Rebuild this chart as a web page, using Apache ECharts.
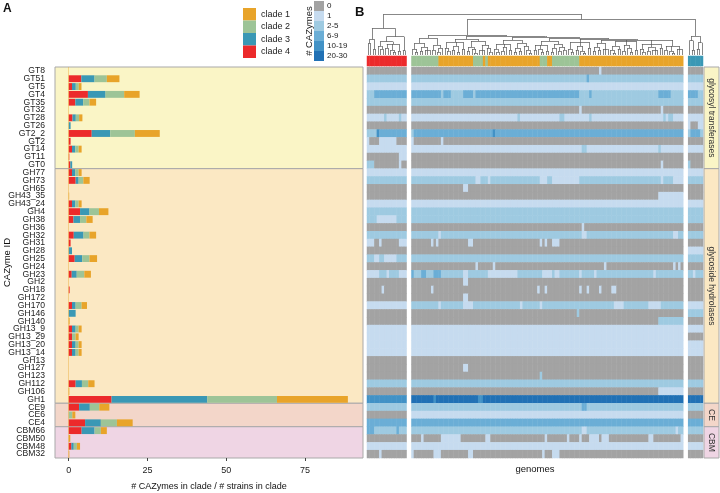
<!DOCTYPE html>
<html>
<head>
<meta charset="utf-8">
<script src="https://cdn.jsdelivr.net/npm/echarts@6/dist/echarts.min.js"></script>
<style>
  html, body { margin: 0; padding: 0; background: #fff; }
  #chart { width: 720px; height: 493px; }
</style>
</head>
<body>
<div id="chart"></div>
<script>
// CAZyme families, top to bottom
const cazymes = ['GT8', 'GT51', 'GT5', 'GT4', 'GT35', 'GT32', 'GT28', 'GT26', 'GT2_2', 'GT2', 'GT14', 'GT11', 'GT0',
  'GH77', 'GH73', 'GH65', 'GH43_35', 'GH43_24', 'GH4', 'GH38', 'GH36', 'GH32', 'GH31', 'GH28', 'GH25', 'GH24', 'GH23',
  'GH2', 'GH18', 'GH172', 'GH170', 'GH146', 'GH140', 'GH13_9', 'GH13_29', 'GH13_20', 'GH13_14', 'GH13', 'GH127',
  'GH123', 'GH112', 'GH106', 'GH1', 'CE9', 'CE6', 'CE4', 'CBM66', 'CBM50', 'CBM48', 'CBM32']

// panel A: # CAZymes in clade / # strains in clade
const clade4 = [0, 4.0, 1.05, 6.1, 2.1, 0, 1.2, 0, 7.3, 0.6, 1.05, 0.2, 0.5,
  1.05, 2.2, 0, 0, 1.05, 3.6, 1.5, 0, 1.6, 0.6, 0, 1.9, 0, 0.95, 0, 0.3, 0, 1.05, 0, 0, 1.05, 1.05, 1.05, 1.05, 0, 0, 0, 2.2, 0, 13.6,
  3.3, 0, 5.2, 4.1, 0, 0.85, 0]
const clade3 = [0, 4.2, 1.2, 5.6, 2.5, 0, 1.05, 0.6, 5.9, 0, 1.05, 0, 0.6,
  1.05, 0.95, 0, 0, 1.05, 3.0, 2.1, 0, 3.1, 0, 1.05, 2.4, 0, 1.6, 0, 0, 0, 1.15, 2.2, 0, 1.15, 0, 1.15, 1.15, 0, 0, 0, 2.0, 0, 30.4,
  3.4, 0, 5.0, 4.1, 0, 0.75, 0]
const clade2 = [0, 3.9, 0.95, 5.9, 2.0, 0, 1.05, 0, 7.8, 0, 1.05, 0, 0,
  1.05, 1.5, 0, 0, 1.05, 3.0, 2.0, 0, 1.9, 0, 0, 2.3, 0, 2.4, 0, 0, 0, 1.9, 0, 0, 0.95, 1.15, 0.95, 0.95, 0, 0, 0, 2.0, 0, 22.1,
  3.0, 1.15, 5.1, 2.0, 0, 1.0, 0]
const clade1 = [0, 4.0, 0.85, 4.9, 2.1, 0, 1.05, 0, 7.9, 0, 0.95, 0, 0,
  0.95, 2.0, 0, 0.15, 0.95, 3.0, 2.0, 0, 2.1, 0, 0, 2.4, 0, 2.1, 0, 0, 0, 1.7, 0, 0.3, 0.95, 0.95, 0.95, 0.95, 0, 0, 0, 2.0, 0.2, 22.5,
  3.2, 0.95, 5.0, 1.9, 0.5, 1.0, 0.2]
const xTicks = [0, 25, 50, 75]

// panel B: count class per genome, run-length coded "class:count" (0 | 1 | 2-5 | 6-9 | 10-19 | 20-30)
const countClasses = ['0', '1', '2-5', '6-9', '10-19', '20-30']
// clade 4 genomes
const heatRed = ['0:16', '2:16', '1:16', '2:3,3:13', '2:16', '0:16', '1:7,2:1,1:5,2:1,1:2', '0:16', '2:4,4:1,3:11',
  '1:1,0:4,1:7,0:4', '1:16', '0:13,1:3', '2:3,0:10,1:1,0:2',
  '1:16', '2:16', '0:16', '0:16', '1:16', '2:16', '2:4,1:8,2:4', '0:16', '2:16', '1:3,0:2,1:1,0:7,1:3', '0:16',
  '2:3,1:2,2:2,1:5,2:4', '0:16', '1:5,2:3,1:1,2:4,1:3', '0:16', '0:6,1:1,0:9', '0:16', '1:16', '0:16', '0:16', '1:16',
  '1:16', '1:16', '1:16', '0:16', '0:16', '0:16', '2:16', '0:16', '4:16',
  '2:16', '0:16', '3:16', '3:3,2:9,3:1,2:3', '0:16', '1:16', '0:5,1:1,0:10']
// clade 1 and clade 2 genomes
const heatMid = ['0:76,1:1,0:33', '2:71,3:1,2:38', '1:110',
  '3:12,2:1,3:3,2:5,3:4,2:1,3:42,2:4,3:1,2:27,3:5,2:5', '2:110', '0:68,1:1,0:32,1:1,0:8',
  '1:43,2:1,1:16,2:2,1:10,2:1,1:29,2:1,1:1,2:2,1:4', '0:110', '2:1,3:32,4:1,3:76', '1:1,0:11,1:1,0:97',
  '1:69,2:2,1:29,2:1,1:9', '0:110', '0:101,1:1,0:8',
  '1:110', '2:26,1:2,2:3,1:1,2:20,1:3,2:2,1:11,2:33,1:1,2:4,1:4', '0:21,1:2,0:87', '0:100,1:10', '1:110', '2:110',
  '2:110', '0:69,1:1,0:40', '2:11,1:1,2:57,1:2,2:35,1:2,2:2',
  '0:8,1:1,0:1,1:1,0:12,1:2,0:27,1:1,0:1,1:1,0:2,1:3,0:50', '0:110', '2:110',
  '0:26,1:1,0:6,1:1,0:44,1:1,0:27,1:1,0:1,1:1,0:1',
  '3:1,2:3,3:2,2:3,3:3,2:9,1:2,2:8,1:12,2:10,1:4,2:1,1:2,2:8,1:1,2:5,1:1,2:23,1:1,2:11', '0:21,1:2,0:87',
  '0:8,1:1,0:42,1:1,0:2,1:1,0:13,1:1,0:2,1:1,0:4,1:1,0:4,1:2,0:27', '0:21,1:2,0:87',
  '2:11,1:1,2:9,1:4,2:19,1:1,2:7,1:1,2:29,1:4,2:10,1:5,2:9', '0:67,2:1,0:42', '0:100,2:10', '1:110', '1:110',
  '1:110', '1:110', '0:110', '0:21,1:2,0:87', '0:52,2:1,0:57', '2:110', '0:100,1:10', '5:9,4:1,5:17,4:2,5:81',
  '2:69,3:2,2:39', '1:110', '3:110', '2:69,1:2,2:36,1:1,2:2',
  '0:4,1:1,0:7,1:8,0:10,1:2,0:22,1:1,0:8,1:1,0:4,1:1,0:3,1:4,0:1,1:3,0:16,1:2,0:11,1:1', '1:110',
  '1:1,0:8,1:3,0:11,1:2,0:28,1:1,0:3,1:3,0:50']
// clade 3 genomes
const heatTeal = ['0:6', '2:6', '1:6', '3:4,2:2', '2:6', '0:6', '1:6', '1:1,0:3,1:2', '2:1,3:4,2:1', '0:6', '1:6', '0:6',
  '2:1,0:5', '1:6', '2:6', '0:6', '0:6', '1:6', '2:6', '2:6', '0:6', '2:6', '0:6', '1:6', '2:6', '0:6', '2:2,1:1,2:3',
  '0:6', '0:6', '0:6', '1:6', '2:6', '0:6', '1:6', '0:6', '1:6', '1:6', '0:6', '0:6', '0:6', '2:6', '0:6', '5:6',
  '2:6', '0:6', '3:6', '2:6', '0:6', '1:6', '0:6']

// clade of each genome column (1..4), same block order
const cladeRed = '4:16'
const cladeMid = '2:11,1:14,2:4,1:1,2:1,1:21,2:3,1:2,2:11,1:42'
const cladeTeal = '3:6'

// genome dendrogram: [height, ...children], 0 = leaf
const treeRed = [26.7, [15.7, [11.7, 0, 0], [5.7, 0, 0]],
  [18.3, [13.3, [9, 0, [6, 0, 0]], [11, [7, 0, 0], [5, 0, [3, 0, 0]], [4, 0, 0]]], [4.3, 0, 0]]]
const treeMid = [20,
  [17, [12, [6, 0, [3, 0, 0]], [8, [4, 0, 0], [5, 0, 0, 0]]], [10, [5, 0, 0], [7, [3, 0, 0], 0]]],
  [19,
    [16,
      [13, [7, 0, [4, 0, 0]], [9, [5, 0, 0], [3, 0, 0]], [6, 0, 0]],
      [14, [8, [4, 0, 0], [6, 0, [2, 0, 0]]], [10, [5, 0, 0, 0], [7, 0, [3, 0, 0]]]]],
    [18,
      [15,
        [11, [6, 0, [3, 0, 0]], [8, [4, 0, 0], 0], [5, 0, 0]],
        [12, [7, [3, 0, 0], [4, 0, 0]], [9, 0, [5, 0, [2, 0, 0]]]]],
      [17,
        [14,
          [10, [5, 0, 0], [6, 0, [3, 0, 0]], [4, 0, 0]],
          [11, [7, [3, 0, 0], 0], [8, [4, 0, 0], [5, 0, 0]]]],
        [16,
          [13, [6, 0, [3, 0, 0]], [9, [5, 0, 0], [4, 0, [2, 0, 0]]], [7, 0, 0]],
          [15,
            [12, [8, [4, 0, 0], [5, 0, 0]], [6, 0, 0, 0]],
            [14, [9, [5, 0, [2, 0, 0]], [6, 0, 0]], [10, [4, 0, 0], [7, 0, [3, 0, 0]]], [5, 0, 0]],
            [11, [6, 0, [3, 0, 0]], [8, [4, 0, 0], [5, 0, 0, 0]], [7, 0, 0]],
            [9, [5, 0, 0], [4, 0, [2, 0, 0]], [6, 0, 0, 0]]]]]]]]
const treeTeal = [19, [14.3, 0, [5, 0, 0]], [12.3, [6, 0, 0], 0]]
const tree = [41, treeRed, [35.7, treeMid, treeTeal]]

const cladeColors = { 1: '#e8a42a', 2: '#9dc497', 3: '#3a98b5', 4: '#ec2a2b' }
const classColors = ['#a3a3a3', '#c6dbef', '#9ecae1', '#6baed6', '#4292c6', '#2171b5']
const famInfo = {
  GT: { label: 'glycosyl transferases', color: '#faf5c6' },
  GH: { label: 'glycoside hydrolases', color: '#fbe8c3' },
  CE: { label: 'CE', color: '#f3d6c9' },
  CBM: { label: 'CBM', color: '#efd5e4' }
}
const FONT = 'Liberation Sans'

const expand = (rle) => {
  const out = []
  rle.split(',').forEach(p => {
    const [v, n] = p.split(':').map(Number)
    for (let i = 0; i < n; i++) out.push(v)
  })
  return out
}

// family groups from the name prefix
const families = []
cazymes.forEach((c, i) => {
  const key = c.match(/^[A-Z]+/)[0]
  const last = families[families.length - 1]
  if (last && last.key === key) last.end = i
  else families.push({ key, start: i, end: i })
})
const famData = families.map((f, i) => [f.start, f.end, i])

// genome columns: three blocks separated by a gap
const GAP = 2
const blocks = [heatRed, heatMid, heatTeal]
const cladeBlocks = [cladeRed, cladeMid, cladeTeal]
const offsets = []
let nCols = 0
blocks.forEach((b, i) => {
  if (i > 0) nCols += GAP
  offsets.push(nCols)
  nCols += expand(b[0]).length
})
const colCats = Array.from({ length: nCols }, (_, i) => i)

const heatData = []
blocks.forEach((b, bi) => {
  b.forEach((rle, r) => {
    expand(rle).forEach((v, c) => heatData.push([offsets[bi] + c, r, v]))
  })
})
const cladeData = []
cladeBlocks.forEach((rle, bi) => {
  expand(rle).forEach((v, c) => cladeData.push([offsets[bi] + c, 0, v]))
})

// dendrogram segments
const leafCols = []
blocks.forEach((b, bi) => {
  const n = expand(b[0]).length
  for (let c = 0; c < n; c++) leafCols.push(offsets[bi] + c)
})
const segs = []
let leafIdx = 0
const place = (node) => {
  if (node === 0) return { x: leafCols[leafIdx++], h: 0 }
  const h = node[0]
  const kids = node.slice(1).map(place)
  kids.forEach(k => segs.push([[k.x, k.h], [k.x, h]]))
  const x0 = kids[0].x
  const x1 = kids[kids.length - 1].x
  segs.push([[x0, h], [x1, h]])
  return { x: (x0 + x1) / 2, h }
}
place(tree)

const chart = echarts.init(document.getElementById('chart'))

const barSeries = [['clade 4', clade4, 4], ['clade 3', clade3, 3], ['clade 2', clade2, 2], ['clade 1', clade1, 1]]
  .map(([name, data, k]) => ({
    name,
    type: 'bar',
    stack: 'total',
    xAxisIndex: 0,
    yAxisIndex: 0,
    barCategoryGap: '12%',
    itemStyle: { color: cladeColors[k] },
    data
  }))
barSeries[3].markLine = {
  silent: true,
  symbol: ['none', 'none'],
  label: { show: false },
  lineStyle: { color: '#e8a42a', width: 1, opacity: 0.4, type: 'solid' },
  data: [{ xAxis: 0 }]
}

const gridBase = { outerBoundsMode: 'none', containLabel: false }

const option = {
  animation: false,
  textStyle: { fontFamily: FONT },
  grid: [
    { ...gridBase, left: 55, top: 67, width: 308, height: 391 },
    { ...gridBase, left: 367, top: 67, width: 336, height: 391 },
    { ...gridBase, left: 367, top: 56, width: 336, height: 10 },
    { ...gridBase, left: 367, top: 12, width: 336, height: 43 }
  ],
  legend: {
    data: ['clade 1', 'clade 2', 'clade 3', 'clade 4'],
    orient: 'vertical',
    left: 238,
    top: 3,
    itemWidth: 13,
    itemHeight: 12.5,
    itemGap: 0,
    icon: 'rect',
    selectedMode: false,
    textStyle: { fontSize: 9, color: '#222', fontFamily: FONT }
  },
  visualMap: [
    {
      type: 'piecewise',
      seriesIndex: 5,
      dimension: 2,
      pieces: countClasses.map((label, i) => ({ value: i, label, color: classColors[i] })),
      orient: 'vertical',
      inverse: true,
      left: 314,
      top: 1,
      padding: 0,
      itemWidth: 10,
      itemHeight: 10,
      itemGap: 0,
      itemSymbol: 'rect',
      textGap: 3,
      align: 'left',
      selectedMode: false,
      textStyle: { fontSize: 8, color: '#222', fontFamily: FONT }
    },
    {
      type: 'piecewise',
      show: false,
      seriesIndex: 6,
      dimension: 2,
      pieces: [1, 2, 3, 4].map(k => ({ value: k, color: cladeColors[k] }))
    }
  ],
  xAxis: [
    {
      type: 'value',
      gridIndex: 0,
      min: -4.35,
      max: 93.4,
      splitLine: { show: false },
      axisLine: { show: false },
      axisTick: { show: true, customValues: xTicks, length: 3, lineStyle: { color: '#444' } },
      axisLabel: { customValues: xTicks, fontSize: 9, color: '#222', margin: 8 },
      name: '# CAZymes in clade / # strains in clade',
      nameLocation: 'middle',
      nameGap: 24,
      nameMoveOverlap: false,
      nameTextStyle: { fontSize: 9, color: '#111', fontFamily: FONT }
    },
    {
      type: 'category',
      gridIndex: 1,
      data: colCats,
      axisLine: { show: false },
      axisTick: { show: false },
      axisLabel: { show: false },
      name: 'genomes',
      nameLocation: 'middle',
      nameGap: 6,
      nameMoveOverlap: false,
      nameTextStyle: { fontSize: 9.5, color: '#111', fontFamily: FONT }
    },
    { type: 'category', gridIndex: 2, data: colCats, show: false },
    { type: 'value', gridIndex: 3, min: -0.5, max: nCols - 0.5, show: false }
  ],
  yAxis: [
    {
      type: 'category',
      gridIndex: 0,
      data: cazymes,
      inverse: true,
      axisLine: { show: false },
      axisTick: { alignWithLabel: true, length: 4, lineStyle: { color: '#444' } },
      axisLabel: { interval: 0, fontSize: 8.6, color: '#222', margin: 10 },
      name: 'CAZyme ID',
      nameLocation: 'middle',
      nameGap: 43,
      nameMoveOverlap: false,
      nameTextStyle: { fontSize: 9.5, color: '#111', fontFamily: FONT }
    },
    { type: 'category', gridIndex: 1, data: cazymes, inverse: true, show: false },
    { type: 'category', gridIndex: 2, data: ['clade'], show: false },
    { type: 'value', gridIndex: 3, min: 0, max: 43, show: false }
  ],
  graphic: [
    { type: 'text', left: 3, top: 3, style: { text: 'A', fontSize: 12, fontWeight: 'bold', fill: '#111', fontFamily: FONT } },
    { type: 'text', left: 355, top: 6, style: { text: 'B', fontSize: 13, fontWeight: 'bold', fill: '#111', fontFamily: FONT } },
    {
      type: 'text',
      x: 309,
      y: 31,
      rotation: Math.PI / 2,
      style: {
        text: '# CAZymes', fontSize: 9.5, fill: '#222', fontFamily: FONT,
        align: 'center', verticalAlign: 'middle', textAlign: 'center', textVerticalAlign: 'middle'
      }
    }
  ],
  series: [
    {
      type: 'custom',
      xAxisIndex: 0,
      yAxisIndex: 0,
      z: 0,
      silent: true,
      data: famData,
      renderItem: (params, api) => {
        const cs = params.coordSys
        const band = api.size([0, 1])[1]
        const y0 = api.coord([0, api.value(0)])[1] - band / 2
        const y1 = api.coord([0, api.value(1)])[1] + band / 2
        return {
          type: 'rect',
          shape: { x: cs.x, y: y0, width: cs.width, height: y1 - y0 },
          style: { fill: famInfo[families[api.value(2)].key].color, stroke: '#a9a9a9', lineWidth: 1 }
        }
      }
    },
    ...barSeries,
    {
      type: 'heatmap',
      xAxisIndex: 1,
      yAxisIndex: 1,
      data: heatData,
      progressive: 0,
      silent: true,
      itemStyle: { borderWidth: 0 }
    },
    {
      type: 'heatmap',
      xAxisIndex: 2,
      yAxisIndex: 2,
      data: cladeData,
      progressive: 0,
      silent: true,
      itemStyle: { borderWidth: 0 }
    },
    {
      type: 'lines',
      coordinateSystem: 'cartesian2d',
      xAxisIndex: 3,
      yAxisIndex: 3,
      silent: true,
      lineStyle: { color: '#555', width: 0.7, opacity: 1 },
      data: segs.map(c => ({ coords: c }))
    },
    {
      type: 'custom',
      xAxisIndex: 1,
      yAxisIndex: 1,
      silent: true,
      data: famData,
      renderItem: (params, api) => {
        const cs = params.coordSys
        const band = api.size([0, 1])[1]
        const y0 = api.coord([0, api.value(0)])[1] - band / 2
        const y1 = api.coord([0, api.value(1)])[1] + band / 2
        const x = cs.x + cs.width + 1
        const w = 15
        const fam = famInfo[families[api.value(2)].key]
        return {
          type: 'group',
          children: [
            {
              type: 'rect',
              shape: { x, y: y0, width: w, height: y1 - y0 },
              style: { fill: fam.color, stroke: '#a9a9a9', lineWidth: 1 }
            },
            {
              type: 'text',
              x: x + w / 2,
              y: (y0 + y1) / 2,
              rotation: -Math.PI / 2,
              style: {
                text: fam.label, fontSize: 8.5, fill: '#333', fontFamily: FONT,
                align: 'center', verticalAlign: 'middle'
              }
            }
          ]
        }
      }
    }
  ]
}

chart.setOption(option)
window.addEventListener('resize', () => chart.resize())
</script>
</body>
</html>
